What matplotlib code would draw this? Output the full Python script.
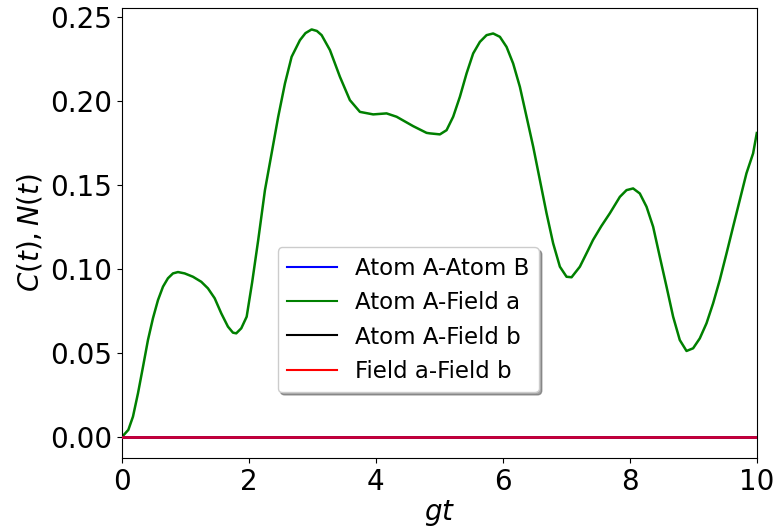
import matplotlib
matplotlib.use("Agg")
import matplotlib.pyplot as plt

# Time axis (gt) and the Atom A - Field a correlation
gt = [0.0, 0.10, 0.173, 0.252, 0.331, 0.409, 0.488, 0.567, 0.646, 0.724, 0.803,
      0.882, 0.987, 1.118, 1.249, 1.354, 1.46, 1.564, 1.669, 1.748, 1.80, 1.879,
      1.964, 2.05, 2.146, 2.252, 2.357, 2.461, 2.567, 2.672, 2.803, 2.89, 2.987,
      3.07, 3.145, 3.276, 3.433, 3.59, 3.748, 3.957, 4.168, 4.326, 4.587, 4.798,
      4.85, 5.008, 5.113, 5.217, 5.323, 5.428, 5.532, 5.638, 5.743, 5.847, 5.953,
      6.058, 6.162, 6.268, 6.373, 6.478, 6.583, 6.688, 6.792, 6.898, 7.003, 7.082,
      7.213, 7.343, 7.42, 7.55, 7.685, 7.843, 7.948, 8.052, 8.157, 8.263, 8.367,
      8.472, 8.578, 8.682, 8.787, 8.893, 8.997, 9.102, 9.208, 9.312, 9.417, 9.523,
      9.627, 9.732, 9.837, 9.942, 10.0]
atomA_fieldA = [0.0, 0.0042, 0.0121, 0.026, 0.0418, 0.0577, 0.0707, 0.0815, 0.0895,
                0.0945, 0.0974, 0.0982, 0.0974, 0.0954, 0.0924, 0.0885, 0.0826, 0.0736,
                0.0657, 0.0621, 0.0617, 0.0647, 0.0716, 0.092, 0.1173, 0.147, 0.1689,
                0.1907, 0.2105, 0.2264, 0.2363, 0.2405, 0.2427, 0.2418, 0.2393, 0.2304,
                0.2145, 0.2006, 0.1936, 0.1921, 0.1927, 0.1907, 0.1851, 0.1811, 0.1808,
                0.1802, 0.1827, 0.1907, 0.2026, 0.2165, 0.2284, 0.2353, 0.2393, 0.2403,
                0.2383, 0.2323, 0.2224, 0.2085, 0.1907, 0.1728, 0.153, 0.1332, 0.1153,
                0.1014, 0.0954, 0.0951, 0.1014, 0.1113, 0.1173, 0.1255, 0.1332, 0.143,
                0.147, 0.148, 0.145, 0.1371, 0.1252, 0.1073, 0.0895, 0.0716, 0.0577,
                0.0512, 0.0528, 0.0587, 0.0677, 0.0796, 0.0935, 0.1093, 0.1252, 0.1411,
                0.157, 0.1689, 0.181]
# The remaining pairs stay uncorrelated over the whole interval
atomA_atomB = [0.0] * len(gt)
atomA_fieldB = [0.0] * len(gt)
fieldA_fieldB = [0.0] * len(gt)

labels = ["Atom A-Atom B", "Atom A-Field a", "Atom A-Field b", "Field a-Field b"]

fig = plt.figure(figsize=(7.77, 5.30), dpi=100)
ax = fig.add_axes([0.157, 0.136, 0.817, 0.849])

ax.plot(gt, atomA_atomB, color="blue", lw=2, label=labels[0], zorder=2.6)
ax.plot(gt, atomA_fieldA, color="green", lw=1.8, label=labels[1], zorder=2.4)
ax.plot(gt, atomA_fieldB, color="black", lw=2, label=labels[2], zorder=2.5)
ax.plot(gt, fieldA_fieldB, color="red", lw=2, alpha=0.8, label=labels[3], zorder=2.7)

ax.set_xlim(0, 10)
ax.set_ylim(-0.0125, 0.2555)
ax.set_xticks([0, 2, 4, 6, 8, 10])
ax.set_yticks([0.0, 0.05, 0.10, 0.15, 0.20, 0.25])
ax.set_yticklabels(["0.00", "0.05", "0.10", "0.15", "0.20", "0.25"])
ax.tick_params(labelsize=20)
ax.set_xlabel("$gt$", fontsize=20, labelpad=2)
ax.set_ylabel("$C(t), N(t)$", fontsize=20, labelpad=4)

leg = ax.legend(loc="center", bbox_to_anchor=(0.451, 0.307), fontsize=16.5,
                shadow=True, framealpha=1, handlelength=2.2)
for h in leg.get_lines():
    h.set_alpha(1)
    h.set_linewidth(1.5)

fig.savefig("out.png", dpi=100)
